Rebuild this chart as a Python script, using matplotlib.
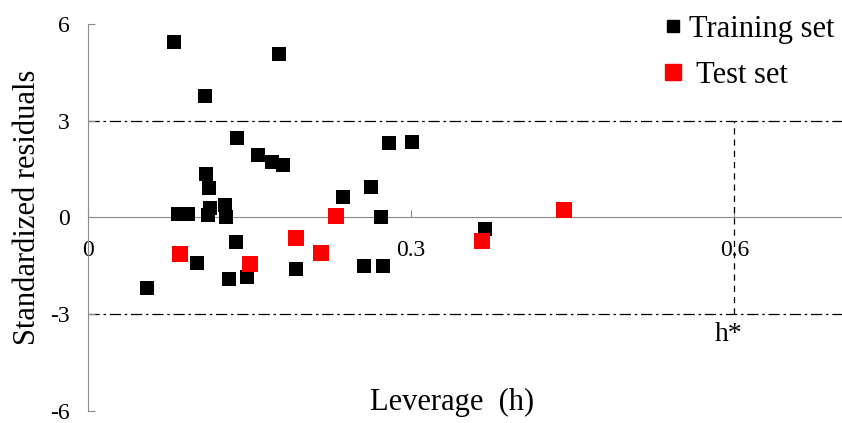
import matplotlib.pyplot as plt
from matplotlib.lines import Line2D

# leverage (h) and standardized residuals
train_h = [0.080, 0.177, 0.109, 0.138, 0.158, 0.171, 0.181, 0.110, 0.112,
           0.279, 0.301, 0.263, 0.237, 0.272, 0.084, 0.093, 0.113, 0.111,
           0.127, 0.128, 0.137, 0.101, 0.055, 0.131, 0.148, 0.193, 0.256,
           0.274, 0.369]
train_res = [5.44, 5.08, 3.77, 2.46, 1.94, 1.73, 1.64, 1.36, 0.90,
             2.31, 2.35, 0.94, 0.63, 0.00, 0.10, 0.10, 0.29, 0.08,
             0.38, 0.00, -0.77, -1.40, -2.18, -1.90, -1.83, -1.61, -1.50,
             -1.50, -0.36]

test_h = [0.085, 0.150, 0.193, 0.216, 0.230, 0.366, 0.442]
test_res = [-1.13, -1.44, -0.64, -1.09, 0.04, -0.74, 0.22]

h_star = 0.6
res_limit = 3
xticks = [0, 0.3, 0.6]
xtick_labels = ['0', '0.3', '0.6']
yticks = [-6, -3, 0, 3, 6]

plt.rcParams['font.family'] = ['Liberation Serif', 'DejaVu Serif']
plt.rcParams['axes.unicode_minus'] = False

fig = plt.figure(figsize=(8.42, 4.23), dpi=100)
ax = fig.add_axes([0.1045, 0.0284, 0.8955, 0.9149])

ax.scatter(train_h, train_res, marker='s', s=95, color='black', linewidths=0, zorder=3)
ax.scatter(test_h, test_res, marker='s', s=125, color='#ff0000', linewidths=0, zorder=3)

# warning limits
ax.axhline(res_limit, color='black', lw=0.9, ls=(0, (9, 3, 2, 3)), zorder=1)
ax.axhline(-res_limit, color='black', lw=0.9, ls=(0, (9, 3, 2, 3)), zorder=1)
ax.plot([h_star, h_star], [-res_limit, res_limit], color='black', lw=0.9,
        ls=(0, (5, 4)), zorder=4)
ax.text(h_star - 0.005, -3.63, 'h*', fontsize=20, ha='center', va='center')

ax.set_xlim(0, 0.70)
ax.set_ylim(-6, 6)

for side in ['top', 'right']:
    ax.spines[side].set_visible(False)
ax.spines['bottom'].set_position(('data', 0))
ax.spines['bottom'].set_color('#8c8c8c')
ax.spines['left'].set_color('#8c8c8c')

ax.set_xticks(xticks)
ax.set_xticklabels(xtick_labels)
ax.set_yticks(yticks)
ax.tick_params(axis='x', direction='in', length=5, color='#8c8c8c', pad=16, labelsize=17)
ax.tick_params(axis='y', direction='in', length=5, color='#8c8c8c', pad=13, labelsize=17)
ax.get_xticklabels()[0].set_x(0.004)

ax.text(0.338, -6.2, 'Leverage  (h)', fontsize=22, ha='center', va='bottom')
fig.text(0.033, 0.51, 'Standardized residuals', fontsize=22, rotation=90,
         ha='center', va='center')

handles = [Line2D([], [], marker='s', ls='none', color='black', markersize=8.5),
           Line2D([], [], marker='s', ls='none', color='#ff0000', markersize=11)]
fig.legend(handles, ['Training set', ' Test set'], loc='upper left',
           bbox_to_anchor=(0.748, 1.03), frameon=False, fontsize=22,
           handletextpad=0.05, handlelength=1.0, labelspacing=0.55)

fig.savefig('out.png', dpi=100)
